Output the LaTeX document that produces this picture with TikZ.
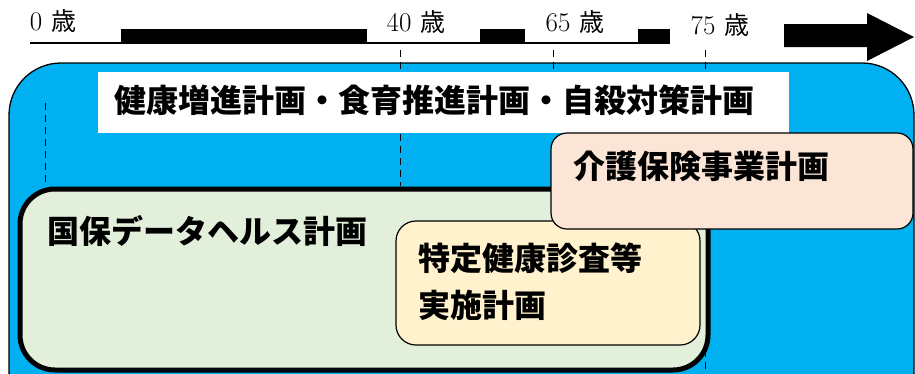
\documentclass[tikz,border=0pt]{standalone}
\usepackage{fontspec}
\newfontfamily\jp{Noto Sans CJK JP}
\definecolor{skyblue}{HTML}{00B0F0}
\definecolor{lgreen}{HTML}{E2EFDA}
\definecolor{lyellow}{HTML}{FFF2CC}
\definecolor{peach}{HTML}{FBE5D6}
\begin{document}
\begin{tikzpicture}[x=1pt,y=-1pt,
  plan/.style={anchor=north west,inner sep=0pt,outer sep=0pt},
  big/.style={anchor=west,inner sep=0pt,font=\jp\bfseries\fontsize{32}{38}\selectfont},
  age/.style={inner sep=0pt,font=\fontsize{27}{32}\selectfont},
  tick/.style={line width=1pt,dash pattern=on 7pt off 5pt}]
\useasboundingbox (0,0) rectangle (915,373);
\clip (0,0) rectangle (915,373);
% timeline
\draw[line width=2pt] (30,43) -- (670,43);
\fill (121,29) rectangle (367,44);
\fill (480,29) rectangle (525,44);
\fill (638,29) rectangle (670,44);
\fill (784,24) -- (867,24) -- (867,13) -- (914,37) -- (867,61) -- (867,47) -- (784,47) -- cycle;
\node[age] (a0) at (53,21) {0\,\,{\jp\fontsize{25}{30}\selectfont 歳}};
\node[age] (a40) at (416,22) {40\,\,{\jp\fontsize{25}{30}\selectfont 歳}};
\node[age] (a65) at (575,22) {65\,\,{\jp\fontsize{25}{30}\selectfont 歳}};
\node[age] (a75) at (720,25) {75\,\,{\jp\fontsize{25}{30}\selectfont 歳}};
% blue box
\node[plan,draw,line width=1.3pt,fill=skyblue,rounded corners=52pt,minimum width=905pt,minimum height=360pt] (blue) at (9,63) {};
% dashed ticks
\coordinate (d0a) at (45,103); \coordinate (d0b) at (45,185);
\coordinate (d40a) at (400,50); \coordinate (d40b) at (400,186);
\coordinate (d65a) at (553,50); \coordinate (d65b) at (553,133);
\coordinate (d75a) at (705,50); \coordinate (d75b) at (705,373);
\draw[tick] (d0a) -- (d0b);
\draw[tick] (d40a) -- (d40b);
\draw[tick] (d65a) -- (d65b);
\draw[tick] (d75a) -- (d75b);
% white band
\node[plan,fill=white,minimum width=691pt,minimum height=61pt] (white) at (98,72) {};
\node[big] (t1) at (114,100) {健康増進計画・食育推進計画・自殺対策計画};
% green box
\node[plan,draw,line width=5pt,fill=lgreen,rounded corners=35pt,minimum width=688pt,minimum height=181pt] (green) at (20,189) {};
\node[big] (t2) at (47,231) {国保データヘルス計画};
% yellow box
\node[plan,draw,line width=1.2pt,fill=lyellow,rounded corners=20pt,minimum width=304pt,minimum height=124pt] (yellow) at (396,221) {};
\node[big] (t3) at (418,258) {特定健康診査等};
\node[big] (t4) at (418,305) {実施計画};
% care box
\node[plan,draw,line width=1.2pt,fill=peach,rounded corners=16pt,minimum width=362pt,minimum height=96pt] (care) at (551,133) {};
\node[big] (t5) at (573,166) {介護保険事業計画};
\end{tikzpicture}
\end{document}
